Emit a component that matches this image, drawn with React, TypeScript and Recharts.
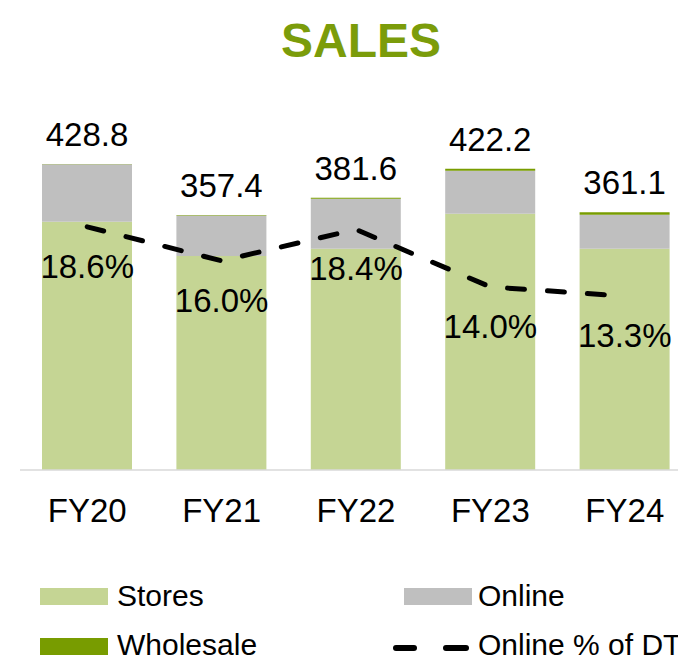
import { ComposedChart, Bar, Line, XAxis, YAxis, LabelList } from 'recharts';

const categories = ['FY20', 'FY21', 'FY22', 'FY23', 'FY24'];
const stores = [348, 300, 310, 359, 310];
const online = [80.3, 56.8, 70, 60.2, 47.6];
const wholesale = [0.5, 0.6, 1.6, 3, 3.5];
const totals = [428.8, 357.4, 381.6, 422.2, 361.1];
const onlinePct = [18.6, 16.0, 18.4, 14.0, 13.3];

const data = categories.map((name, i) => ({
  name,
  stores: stores[i],
  online: online[i],
  wholesale: wholesale[i],
  total: totals[i],
  pct: onlinePct[i],
}));

const STORES = '#c5d594';
const ONLINE = '#bfbfbf';
const WHOLESALE = '#789c00';
const FONT = '"Liberation Sans", Arial, sans-serif';

// total above each stacked bar
const renderTotal = (props: any) => {
  const { x, y, width, value } = props;
  return (
    <text x={x + width / 2} y={y - 18} textAnchor="middle" fontSize={33} fill="#000">
      {Number(value).toFixed(1)}
    </text>
  );
};

// percentage under each line point
const renderPct = (props: any) => {
  const { x, y, value } = props;
  return (
    <text x={x} y={y + 51} textAnchor="middle" fontSize={33} fill="#000">
      {Number(value).toFixed(1)}%
    </text>
  );
};

const legendText = { position: 'absolute' as const, fontSize: 30, lineHeight: '28px', whiteSpace: 'nowrap' as const };

export default function App() {
  return (
    <div
      style={{
        position: 'absolute',
        left: 0,
        top: 0,
        width: 678,
        height: 660,
        overflow: 'hidden',
        background: '#fff',
        fontFamily: FONT,
      }}
    >
      <div
        style={{
          position: 'absolute',
          left: 0,
          top: 17,
          width: 722,
          textAlign: 'center',
          fontSize: 48,
          lineHeight: '48px',
          fontWeight: 'bold',
          color: '#7b9c0a',
        }}
      >
        SALES
      </div>

      <div style={{ position: 'absolute', left: 0, top: 0 }}>
        <ComposedChart
          width={700}
          height={560}
          data={data}
          margin={{ top: 100, right: 8, left: 20, bottom: 0 }}
        >
          <XAxis
            dataKey="name"
            height={90}
            tickLine={false}
            tickSize={0}
            tickMargin={29}
            axisLine={{ stroke: '#d9d9d9', strokeWidth: 1.5 }}
            tick={{ fontSize: 33, fill: '#000' }}
            interval={0}
          />
          <YAxis yAxisId="left" hide width={0} domain={[0, 518.5]} />
          <YAxis yAxisId="right" orientation="right" hide width={0} domain={[0, 28.3]} />
          <Bar yAxisId="left" dataKey="stores" stackId="s" fill={STORES} barSize={90} isAnimationActive={false} />
          <Bar yAxisId="left" dataKey="online" stackId="s" fill={ONLINE} barSize={90} isAnimationActive={false} />
          <Bar yAxisId="left" dataKey="wholesale" stackId="s" fill={WHOLESALE} barSize={90} isAnimationActive={false}>
            <LabelList dataKey="total" content={renderTotal} />
          </Bar>
          <Line
            yAxisId="right"
            type="linear"
            dataKey="pct"
            stroke="#000"
            strokeWidth={5}
            strokeDasharray="17 23"
            strokeLinecap="round"
            dot={false}
            activeDot={false}
            isAnimationActive={false}
          >
            <LabelList dataKey="pct" content={renderPct} />
          </Line>
        </ComposedChart>
      </div>

      {/* legend */}
      <div style={{ position: 'absolute', left: 40, top: 588, width: 68, height: 17, background: STORES }} />
      <div style={{ ...legendText, left: 117, top: 582 }}>Stores</div>
      <div style={{ position: 'absolute', left: 404, top: 588, width: 68, height: 17, background: ONLINE }} />
      <div style={{ ...legendText, left: 478, top: 582 }}>Online</div>
      <div style={{ position: 'absolute', left: 40, top: 638, width: 68, height: 17, background: WHOLESALE }} />
      <div style={{ ...legendText, left: 117, top: 631 }}>Wholesale</div>
      <svg style={{ position: 'absolute', left: 390, top: 638 }} width={90} height={20}>
        <line x1={6} y1={10} x2={24} y2={10} stroke="#000" strokeWidth={6} strokeLinecap="round" />
        <line x1={56} y1={10} x2={76} y2={10} stroke="#000" strokeWidth={6} strokeLinecap="round" />
      </svg>
      <div style={{ ...legendText, left: 478, top: 631 }}>Online % of DTC</div>
    </div>
  );
}
